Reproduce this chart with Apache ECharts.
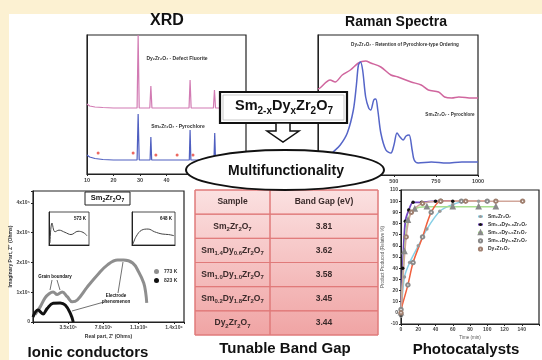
<!DOCTYPE html>
<html><head><meta charset="utf-8">
<script src="https://cdn.jsdelivr.net/npm/echarts@6/dist/echarts.min.js"></script>
<style>html,body{margin:0;padding:0;background:#fcf1d2}#c{width:542px;height:360px}</style>
</head><body><div id="c"></div>
<script>
// ---------- DATA ----------
// XRD (2theta, intensity a.u.)
const xrdDy = [[10,70],[11,68],[13,67],[16,66.5],[20,66],[25,66],[28.9,66],[29.3,139],[29.7,66],[33.7,66],[34.1,88],[34.5,66],[48.5,66],[48.9,94],[49.3,66],[57.7,66],[58.1,84],[58.5,66],[64,66],[70,66]];
const xrdSm = [[10,19],[11,17],[13,15.5],[16,14.5],[20,14],[28.9,14],[29.3,60],[29.7,14],[33.8,14],[34.1,37],[34.4,14],[48.6,14],[48.9,44],[49.2,14],[57.9,14],[58.2,41],[58.5,14],[64,14],[70,14]];
const xrdStars = [[14.2,21],[27.4,21],[36.0,19],[44.0,19],[50.0,19]];
// Raman (shift cm-1, intensity a.u.)
const ramanDy = [[50,86],[62,87],[122,95],[152,93],[194,100],[242,105],[290,112],[333,114],[363,112],[423,108],[483,100],[525,98],[603,93],[663,90],[705,85],[766,83],[802,78],[844,77],[886,78],[964,77],[1000,77]];
const ramanSm = [[50,7],[92,15],[140,23],[182,30],[224,42],[260,65],[278,90],[290,110],[302,113],[315,105],[333,78],[351,67],[363,65],[381,75],[393,76],[405,65],[423,42],[453,25],[483,22],[501,30],[519,42],[537,38],[555,35],[573,39],[591,40],[609,25],[621,15],[645,12],[723,13],[814,12],[904,13],[1000,13]];
// Impedance (units of 1e5 Ohm)
const imp773 = [[0.2,0.25],[0.7,0.5],[1.2,0.81],[1.6,0.95],[2.0,1.01],[2.4,0.92],[2.9,1.01],[3.4,0.85],[3.9,0.68],[4.4,0.74],[5.4,1.18],[6.4,1.58],[7.4,1.92],[8.4,2.08],[9.0,2.08],[9.9,1.98],[10.5,1.68],[11.0,1.31],[11.2,0.97],[11.3,0.64]];
const imp823 = [[0.0,0.17],[0.5,0.4],[1.0,0.27],[1.4,0.45],[2.0,0.63],[2.7,0.64],[3.2,0.57],[3.7,0.3],[4.0,0.0]];
const inset573 = [[0.1,0.2],[0.3,2.0],[0.6,1.2],[1.0,1.35],[1.6,1.15],[2.2,0.95],[2.9,1.25],[3.4,1.15],[3.8,0.85]];
const inset648 = [[0.1,0.1],[0.4,0.8],[0.9,1.35],[1.5,1.45],[2.1,1.2],[2.8,1.0],[3.4,0.95],[3.9,0.85]];
const impXLabels = ['3.5x10\u2075','7.0x10\u2075','1.1x10\u2076','1.4x10\u2076'];
const impYLabels = ['0','1x10\u2075','2x10\u2075','3x10\u2075','4x10\u2075'];
// Photocatalysis (time min, % relative)
const pcNames = ['Sm\u2082Zr\u2082O\u2087','Sm\u2081.\u2084Dy\u2080.\u2086Zr\u2082O\u2087','Sm\u2081.\u2080Dy\u2081.\u2080Zr\u2082O\u2087','Sm\u2080.\u2082Dy\u2081.\u2088Zr\u2082O\u2087','Dy\u2082Zr\u2082O\u2087'];
const pcSm = [[0,-3],[4,32],[10,45],[20,60],[30,75],[45,91],[60,97],[75,100],[90,100]];
const pcDy06 = [[0,-2],[2,40],[5,82],[9,92],[14,99],[24,99],[40,100],[60,100]];
const pcDy10 = [[0,0],[4,55],[8,83],[16,93],[30,95],[60,95],[90,95],[110,95]];
const pcDy18 = [[0,3],[8,25],[14,45],[25,68],[35,90],[46,100],[70,100],[100,100]];
const pcDy = [[0,0],[6,68],[12,90],[25,98],[46,100],[75,100],[110,100],[141,100]];
// Band gap table
const tableHeader = ['Sample','Band Gap (eV)'];
const samples = ['Sm2Zr2O7','Sm1.4Dy0.6Zr2O7','Sm1.0Dy1.0Zr2O7','Sm0.2Dy1.8Zr2O7','Dy2Zr2O7'];
const bandGaps = ['3.81','3.62','3.58','3.45','3.44'];

// ---------- HELPERS ----------
const FF = '"Liberation Sans", Arial, sans-serif';
function chem(f){ return f.replace(/([A-Z][a-z]?)([0-9.\-x]*)/g,(m,el,n)=>'{n|'+el+'}'+(n?'{s|'+n+'}':'')); }
function richChem(F,col){
  const c = col||'#111';
  return {n:{fontSize:F,fontWeight:'bold',fontFamily:FF,color:c,lineHeight:Math.round(F*1.45),verticalAlign:'middle'},
          s:{fontSize:Math.round(F*0.68),fontWeight:'bold',fontFamily:FF,color:c,lineHeight:Math.round(F*0.68),verticalAlign:'bottom'}};
}
const lblS = {fontSize:5.5,fontWeight:'bold',color:'#444',fontFamily:FF,margin:3};
function ax(gi,o){ return Object.assign({gridIndex:gi,type:'value',splitLine:{show:false},axisLine:{show:true,onZero:false,lineStyle:{color:'#222',width:1}},axisTick:{show:true,length:2,lineStyle:{color:'#222'}},axisLabel:{show:false}},o); }
const boxGrid = (l,t,w,h,bw)=>({left:l,top:t,width:w,height:h,show:true,borderColor:'#222',borderWidth:bw||1,backgroundColor:'transparent'});

const colEdges = [0,75,183];
const tableRows = ['h'].concat(samples.map((s,i)=>String(i)));
const tableData = [];
for (let r=0;r<tableRows.length;r++) for (let c=0;c<2;c++) tableData.push([c,r]);

const chart = echarts.init(document.getElementById('c'),null,{renderer:'canvas'});
const T = (x,y,text,size,opt)=>({type:'text',x:x,y:y,z:100,style:Object.assign({text:text,fontSize:size,fontWeight:'bold',fontFamily:FF,fill:'#111',align:'center',verticalAlign:'middle'},opt||{})});
const pcSym = {symbolSize:3.5};

const option = {
  backgroundColor:'#fcf1d2',
  animation:false,
  grid:[
    boxGrid(87,35,159,139,1.2),            //0 XRD
    boxGrid(318,35,160,140,1.2),           //1 Raman
    boxGrid(33,191,151,131,1.2),           //2 impedance
    boxGrid(49,212,40,33,0.8),             //3 inset 573
    boxGrid(132,212,43,33,0.8),            //4 inset 648
    boxGrid(401,190,146,134,1.2),          //5 photocat
    {left:195,top:190,width:183,height:145,show:true,borderColor:'#e07a7a',borderWidth:1,
     backgroundColor:new echarts.graphic.LinearGradient(0,0,0,1,[{offset:0,color:'#fbe1e1'},{offset:1,color:'#f0a4a4'}])} //6 table
  ],
  xAxis:[
    ax(0,{min:10,max:70,interval:10,axisLabel:Object.assign({},lblS,{show:true,formatter:v=>v<=40?String(v):''})}),
    ax(1,{min:50,max:1000,axisTick:{show:true,length:2,customValues:[500,750,1000]},axisLabel:Object.assign({},lblS,{show:true,customValues:[500,750,1000],formatter:v=>String(v)})}),
    ax(2,{min:0,max:15,interval:3.5,name:'Real part, Z\' (Ohms)',nameLocation:'middle',nameGap:12,nameTextStyle:{fontSize:5,fontWeight:'bold',fontFamily:FF,color:'#333'},
          axisLabel:Object.assign({},lblS,{show:true,fontSize:5,formatter:v=>{const i=Math.round(v/3.5);return (i>0&&Math.abs(v-i*3.5)<1e-6)?impXLabels[i-1]:'';}})}),
    ax(3,{min:0,max:4,axisTick:{show:false}}),
    ax(4,{min:0,max:4,axisTick:{show:false}}),
    ax(5,{min:0,max:160,interval:20,name:'Time (min)',nameLocation:'middle',nameGap:11,nameTextStyle:{fontSize:4.5,fontFamily:FF,color:'#555'},
          axisLabel:Object.assign({},lblS,{show:true,fontSize:5,formatter:v=>v<160?String(v):''})}),
    {gridIndex:6,type:'value',min:0,max:183,show:false}
  ],
  yAxis:[
    ax(0,{min:0,max:139,axisTick:{show:false}}),
    ax(1,{min:0,max:140,axisTick:{show:false}}),
    ax(2,{min:0,max:4.4,interval:1,name:'Imaginary Part, Z\'\' (Ohms)',nameLocation:'middle',nameGap:19,nameTextStyle:{fontSize:5,fontWeight:'bold',fontFamily:FF,color:'#333'},
          axisLabel:Object.assign({},lblS,{show:true,fontSize:5,formatter:v=>Number.isInteger(v)?(impYLabels[v]||''):''})}),
    ax(3,{min:0,max:3,axisTick:{show:false}}),
    ax(4,{min:0,max:3,axisTick:{show:false}}),
    ax(5,{min:-10,max:110,interval:10,name:'Product Produced (Relative %)',nameLocation:'middle',nameGap:14,nameTextStyle:{fontSize:4.5,fontFamily:FF,color:'#555'},
          axisLabel:Object.assign({},lblS,{show:true,fontSize:5})}),
    {gridIndex:6,type:'category',data:tableRows,inverse:true,show:false}
  ],
  legend:[
    {data:[{name:'773 K',icon:'circle'},{name:'823 K',icon:'circle'}],orient:'vertical',left:149,top:264,itemWidth:5,itemHeight:5,itemGap:4,
     textStyle:{fontSize:5,fontWeight:'bold',fontFamily:FF,color:'#333'}},
    {data:pcNames.map(n=>({name:n})),orient:'vertical',left:472,top:209,itemWidth:5,itemHeight:4,itemGap:3,
     textStyle:{fontSize:5,fontWeight:'bold',fontFamily:FF,color:'#333'}}
  ],
  series:[
    {type:'line',xAxisIndex:0,yAxisIndex:0,data:xrdDy,showSymbol:false,lineStyle:{color:'#d27bb3',width:1.2}},
    {type:'line',xAxisIndex:0,yAxisIndex:0,data:xrdSm,showSymbol:false,lineStyle:{color:'#4f5fc0',width:1.2}},
    {type:'scatter',xAxisIndex:0,yAxisIndex:0,data:xrdStars,symbolSize:3,itemStyle:{color:'#e8443a'}},
    {type:'line',xAxisIndex:1,yAxisIndex:1,data:ramanDy,showSymbol:false,smooth:0.3,lineStyle:{color:'#d0669e',width:1.5}},
    {type:'line',xAxisIndex:1,yAxisIndex:1,data:ramanSm,showSymbol:false,smooth:0.3,lineStyle:{color:'#5565c8',width:1.5}},
    {name:'773 K',type:'line',xAxisIndex:2,yAxisIndex:2,data:imp773,smooth:0.4,showSymbol:false,symbol:'circle',itemStyle:{color:'#8e8e8e'},lineStyle:{color:'#8e8e8e',width:3}},
    {name:'823 K',type:'line',xAxisIndex:2,yAxisIndex:2,data:imp823,smooth:0.4,showSymbol:false,symbol:'circle',itemStyle:{color:'#111'},lineStyle:{color:'#111',width:3}},
    {type:'line',xAxisIndex:3,yAxisIndex:3,data:inset573,smooth:0.4,showSymbol:false,lineStyle:{color:'#444',width:1}},
    {type:'line',xAxisIndex:4,yAxisIndex:4,data:inset648,smooth:0.4,showSymbol:false,lineStyle:{color:'#444',width:1}},
    Object.assign({name:pcNames[0],type:'line',xAxisIndex:5,yAxisIndex:5,data:pcSm,smooth:0.3,symbol:'circle',itemStyle:{color:'#9a9a9a'},lineStyle:{color:'#86cfe6',width:1.5}},pcSym),
    Object.assign({name:pcNames[1],type:'line',xAxisIndex:5,yAxisIndex:5,data:pcDy06,smooth:0.3,symbol:'circle',itemStyle:{color:'#111'},lineStyle:{color:'#7347c2',width:1.8}},pcSym),
    Object.assign({name:pcNames[2],type:'line',xAxisIndex:5,yAxisIndex:5,data:pcDy10,smooth:0.3,symbol:'emptyTriangle',itemStyle:{color:'#8a8a8a'},lineStyle:{color:'#a8e08e',width:1.5}},pcSym),
    Object.assign({name:pcNames[3],type:'line',xAxisIndex:5,yAxisIndex:5,data:pcDy18,smooth:0.3,symbol:'emptyCircle',itemStyle:{color:'#8a8a8a'},lineStyle:{color:'#f0603e',width:1.5}},pcSym),
    Object.assign({name:pcNames[4],type:'line',xAxisIndex:5,yAxisIndex:5,data:pcDy,smooth:0.3,symbol:'emptyCircle',itemStyle:{color:'#a08070'},lineStyle:{color:'#d2a79b',width:1.5}},pcSym),
    {type:'custom',xAxisIndex:6,yAxisIndex:6,data:tableData,z:5,
     renderItem:function(params,api){
       const c=api.value(0), r=api.value(1);
       const x0=api.coord([colEdges[c],r])[0], x1=api.coord([colEdges[c+1],r])[0];
       const yc=api.coord([0,r])[1], h=api.size([0,1])[1];
       let txt, rich={};
       if (r===0) txt=tableHeader[c];
       else if (c===0) { txt=chem(samples[r-1]); rich=richChem(8.5,'#3a2a2a'); }
       else txt=bandGaps[r-1];
       return {type:'group',children:[
         {type:'rect',shape:{x:x0,y:yc-h/2,width:x1-x0,height:h},style:{fill:'rgba(0,0,0,0)',stroke:'#e07a7a',lineWidth:1}},
         {type:'text',style:{text:txt,rich:rich,x:(x0+x1)/2,y:yc,align:'center',verticalAlign:'middle',fontSize:8.5,fontWeight:'bold',fontFamily:FF,fill:'#3a2a2a'}}
       ]};
     }}
  ],
  graphic:[
    {type:'rect',z:-100,shape:{x:9,y:14,width:533,height:346},style:{fill:'#ffffff'}},
    T(167,21,'XRD',16),
    T(396,22,'Raman Spectra',14),
    T(177,59,'Dy\u2082Zr\u2082O\u2087 - Defect Fluorite',5,{fill:'#333'}),
    T(178,127,'Sm\u2082Zr\u2082O\u2087 - Pyrochlore',5,{fill:'#333'}),
    T(405,45,'Dy\u2082Zr\u2082O\u2087 - Retention of Pyrochlore-type Ordering',4.6,{fill:'#333'}),
    T(450,115,'Sm\u2082Zr\u2082O\u2087 - Pyrochlore',4.6,{fill:'#333'}),
    // composition box
    {type:'rect',z:100,shape:{x:220,y:92,width:127,height:31},style:{fill:'#fff',stroke:'#111',lineWidth:2.2}},
    {type:'rect',z:100,shape:{x:223,y:95,width:121,height:25},style:{fill:'none',stroke:'#bbb',lineWidth:0.8}},
    T(284,106,chem('Sm2-xDyxZr2O7'),14.5,{rich:richChem(14.5)}),
    {type:'polygon',z:100,shape:{points:[[276,123],[290,123],[290,131],[299,131],[283,142],[267,131],[276,131]]},style:{fill:'#fff',stroke:'#111',lineWidth:1.5}},
    {type:'ellipse',z:100,shape:{cx:285,cy:170,rx:99,ry:20},style:{fill:'#fff',stroke:'#111',lineWidth:2}},
    T(286,171,'Multifunctionality',14),
    // impedance decorations
    {type:'rect',z:100,shape:{x:85,y:192,width:45,height:13},style:{fill:'#fff',stroke:'#222',lineWidth:1}},
    T(107.5,198,chem('Sm2Zr2O7'),7.5,{rich:richChem(7.5)}),
    T(80,219,'573 K',4.5),
    T(166,219,'648 K',4.5),
    T(55,277,'Grain boundary',4.5),
    {type:'line',z:100,shape:{x1:52,y1:280,x2:50,y2:290},style:{stroke:'#333',lineWidth:0.7}},
    {type:'line',z:100,shape:{x1:57,y1:280,x2:60,y2:290},style:{stroke:'#333',lineWidth:0.7}},
    T(116,299,'Electrode\nphenomenon',4.5,{lineHeight:5.5}),
    {type:'line',z:100,shape:{x1:118,y1:293,x2:123,y2:262},style:{stroke:'#333',lineWidth:0.7}},
    {type:'line',z:100,shape:{x1:104,y1:302,x2:72,y2:311},style:{stroke:'#333',lineWidth:0.7}},
    // bottom titles
    T(88,353,'Ionic conductors',15),
    T(285,349,'Tunable Band Gap',15),
    T(466,350,'Photocatalysts',15)
  ]
};
chart.setOption(option);
</script></body></html>
